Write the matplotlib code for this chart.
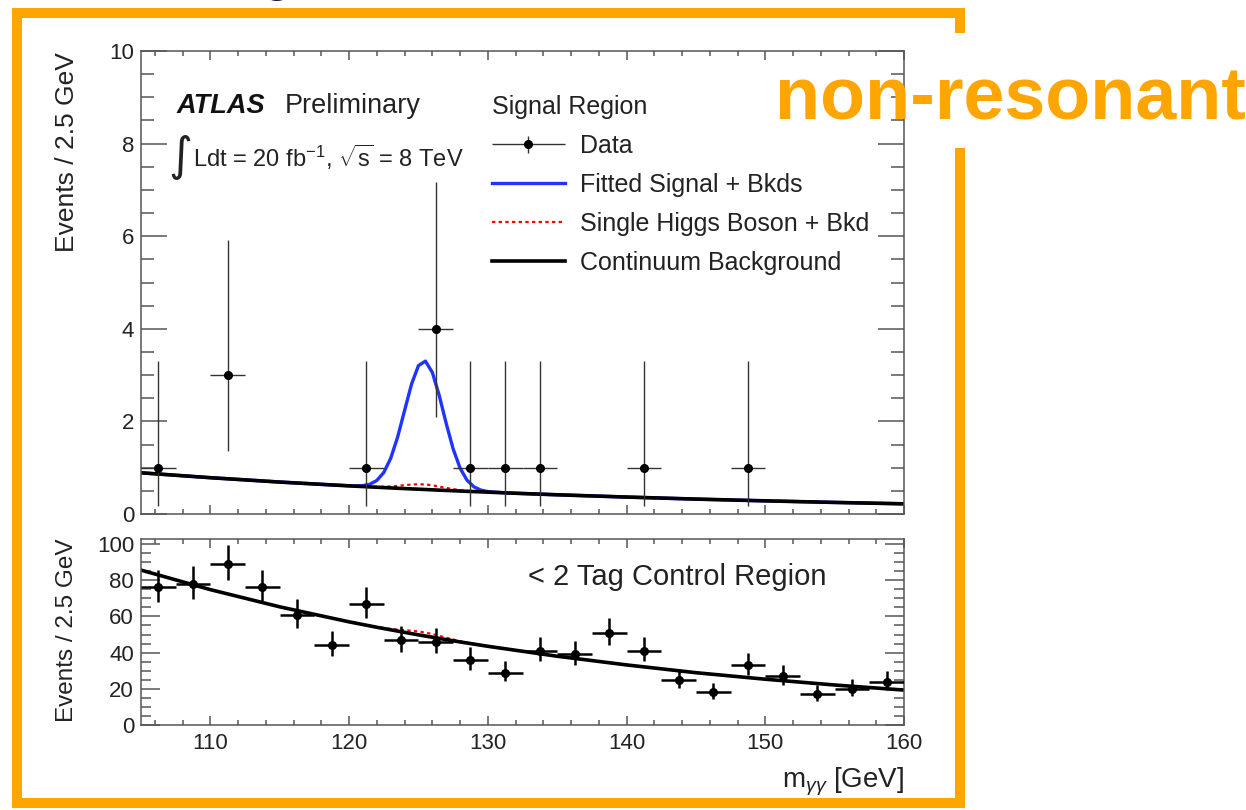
import matplotlib
matplotlib.use("Agg")
import matplotlib.pyplot as plt
from matplotlib.lines import Line2D
from matplotlib.ticker import MultipleLocator
from matplotlib.legend_handler import HandlerErrorbar
from matplotlib.container import ErrorbarContainer

plt.rcParams['font.family'] = ['Liberation Sans', 'DejaVu Sans']
plt.rcParams['mathtext.fontset'] = 'custom'
plt.rcParams['mathtext.rm'] = 'Liberation Sans'
plt.rcParams['mathtext.it'] = 'Liberation Sans:italic'
plt.rcParams['mathtext.bf'] = 'Liberation Sans:bold'

W, H = 1246, 810
ORANGE = '#ffa500'
AXIS_GREY = '#555555'

# signal region: 2.5 GeV bins that have events
sr_mass = [106.25, 111.25, 121.25, 126.25, 128.75, 131.25, 133.75, 141.25, 148.75]
sr_events = [1, 3, 1, 4, 1, 1, 1, 1, 1]
sr_err_lo = [0.83, 1.63, 0.83, 1.91, 0.83, 0.83, 0.83, 0.83, 0.83]
sr_err_hi = [2.30, 2.92, 2.30, 3.16, 2.30, 2.30, 2.30, 2.30, 2.30]

# < 2 tag control region
cr_mass = [106.25, 108.75, 111.25, 113.75, 116.25, 118.75, 121.25, 123.75,
           126.25, 128.75, 131.25, 133.75, 136.25, 138.75, 141.25, 143.75,
           146.25, 148.75, 151.25, 153.75, 156.25, 158.75]
cr_events = [76, 78, 89, 76, 61, 44, 67, 47, 46, 36, 29, 41, 39, 51, 41, 25,
             18, 33, 27, 17, 20, 24]
cr_err_lo = [8.2, 8.3, 8.9, 8.2, 7.3, 6.1, 7.7, 6.4, 6.3, 5.5, 4.9, 5.9, 5.7,
             6.6, 5.9, 4.5, 3.7, 5.2, 4.7, 3.6, 4.0, 4.4]
cr_err_hi = [9.7, 9.8, 10.4, 9.7, 8.8, 7.7, 9.2, 7.9, 7.8, 7.0, 6.4, 7.4, 7.2,
             8.2, 7.4, 6.0, 5.3, 6.8, 6.2, 5.2, 5.5, 5.9]
bin_half = 1.25

# fit curves in the signal region
sr_curve_mass = [105, 110, 115, 119, 120, 120.5, 121, 121.5, 122, 122.5, 123,
                 123.5, 124, 124.5, 125, 125.5, 126, 126.5, 127, 127.5, 128,
                 128.5, 129, 129.5, 130, 131, 132, 135, 140, 145, 150, 155, 160]
sr_continuum = [0.890, 0.784, 0.690, 0.624, 0.608, 0.600, 0.593, 0.585, 0.578,
                0.571, 0.563, 0.556, 0.549, 0.542, 0.536, 0.529, 0.522, 0.515,
                0.509, 0.503, 0.496, 0.490, 0.484, 0.478, 0.472, 0.460, 0.448,
                0.415, 0.366, 0.322, 0.284, 0.250, 0.220]
sr_fitted = [0.890, 0.784, 0.690, 0.624, 0.610, 0.606, 0.613, 0.643, 0.724,
             0.896, 1.203, 1.663, 2.235, 2.803, 3.205, 3.302, 3.058, 2.557,
             1.956, 1.406, 0.992, 0.730, 0.586, 0.516, 0.485, 0.461, 0.448,
             0.415, 0.366, 0.322, 0.284, 0.250, 0.220]
sr_single_higgs = [0.890, 0.784, 0.690, 0.624, 0.608, 0.600, 0.595, 0.589,
                   0.587, 0.588, 0.595, 0.607, 0.623, 0.636, 0.643, 0.638,
                   0.620, 0.592, 0.563, 0.537, 0.516, 0.500, 0.489, 0.480,
                   0.473, 0.460, 0.448, 0.415, 0.366, 0.322, 0.284, 0.250,
                   0.220]

# fit curves in the control region
cr_curve_mass = [105, 110, 115, 120, 122, 123, 124, 125, 126, 127, 128, 129,
                 130, 135, 140, 145, 150, 155, 160]
cr_continuum = [85.6, 74.8, 65.3, 57.0, 54.0, 52.6, 51.2, 49.8, 48.5, 47.2,
                45.9, 44.7, 43.5, 38.0, 33.2, 28.9, 25.3, 22.1, 19.3]
cr_single_higgs = [85.6, 74.8, 65.3, 57.0, 54.1, 53.1, 52.4, 51.7, 50.3, 48.2,
                   46.3, 44.8, 43.5, 38.0, 33.2, 28.9, 25.3, 22.1, 19.3]


def fx(px):
    return px / W


def fy(py):
    return 1 - py / H


def root_style(ax, ymajor, yminor, ymaj_len, ymin_len):
    ax.set_xlim(105, 160)
    ax.xaxis.set_major_locator(MultipleLocator(10))
    ax.xaxis.set_minor_locator(MultipleLocator(2))
    ax.yaxis.set_major_locator(MultipleLocator(ymajor))
    ax.yaxis.set_minor_locator(MultipleLocator(yminor))
    ax.tick_params(which='both', direction='in', top=True, right=True,
                   color=AXIS_GREY, width=1.1, labelsize=16,
                   labelcolor='#222222')
    ax.tick_params(axis='x', which='major', length=6.5, pad=6)
    ax.tick_params(axis='x', which='minor', length=3.6)
    ax.tick_params(axis='y', which='major', length=ymaj_len, pad=5)
    ax.tick_params(axis='y', which='minor', length=ymin_len)
    for s in ax.spines.values():
        s.set_color(AXIS_GREY)
        s.set_linewidth(1.1)


fig = plt.figure(figsize=(12.46, 8.10), dpi=100)

ax1 = fig.add_axes([fx(141), fy(514), fx(904) - fx(141), fy(51) - fy(514)])
ax2 = fig.add_axes([fx(141), fy(725), fx(904) - fx(141), fy(538.6) - fy(725)])

# --- signal region ---
blue, = ax1.plot(sr_curve_mass, sr_fitted, color='#1f35ff', lw=2.4)
red, = ax1.plot(sr_curve_mass, sr_single_higgs, color='#ff0000', lw=1.6,
                ls=(0, (1.5, 1.5)))
black, = ax1.plot(sr_curve_mass, sr_continuum, color='black', lw=2.6)
data = ax1.errorbar(sr_mass, sr_events, xerr=bin_half,
                    yerr=[sr_err_lo, sr_err_hi], fmt='o', color='black',
                    ecolor='#333333', elinewidth=1.0, markersize=5.5,
                    capsize=0, zorder=5)
ax1.set_ylim(0, 10)
root_style(ax1, 2, 0.5, 18.5, 9.4)
ax1.tick_params(axis='x', labelbottom=False)

leg = ax1.legend([data, blue, red, black],
                 ['Data', 'Fitted Signal + Bkds', 'Single Higgs Boson + Bkd',
                  'Continuum Background'],
                 title='Signal Region', loc='upper left',
                 bbox_to_anchor=(fx(492), fy(95)), bbox_transform=fig.transFigure,
                 frameon=False, fontsize=18, title_fontsize=18,
                 handlelength=2.9, handletextpad=0.6, labelspacing=0.6,
                 borderpad=0, borderaxespad=0, alignment='left',
                 handler_map={ErrorbarContainer:
                              HandlerErrorbar(xerr_size=1.45, yerr_size=0.35)})
for t in leg.get_texts():
    t.set_color('#222222')
leg.get_title().set_color('#222222')

fig.text(fx(177), fy(113), 'ATLAS', fontsize=19.5, fontweight='bold',
         fontstyle='italic', va='baseline', color='#111111')
fig.text(fx(285), fy(113), 'Preliminary', fontsize=19.5, va='baseline',
         color='#222222')
fig.text(fx(168), fy(170), '\u222b', family='DejaVu Sans', fontsize=33,
         va='baseline', color='#222222')
fig.text(fx(193), fy(167), r'Ldt = 20 fb$^{-1}$, $\sqrt{\mathrm{s}}$ = 8 TeV',
         fontsize=17, va='baseline', color='#222222')

# --- control region ---
ax2.plot(cr_curve_mass, cr_single_higgs, color='#ff0000', lw=1.6,
         ls=(0, (1.5, 1.5)))
ax2.plot(cr_curve_mass, cr_continuum, color='black', lw=2.6)
ax2.errorbar(cr_mass, cr_events, xerr=bin_half, yerr=[cr_err_lo, cr_err_hi],
             fmt='o', color='black', ecolor='black', elinewidth=1.8,
             markersize=5.5, capsize=0, zorder=5)
ax2.set_ylim(0, 103)
root_style(ax2, 20, 5, 13.7, 7.2)

fig.text(fx(528), fy(577), '< 2 Tag Control Region', fontsize=21,
         va='center', color='#222222')

fig.text(fx(67), fy(52), 'Events / 2.5 GeV', rotation=90, fontsize=19,
         ha='center', va='top', color='#222222')
fig.text(fx(67), fy(538), 'Events / 2.5 GeV', rotation=90, fontsize=17.5,
         ha='center', va='top', color='#222222')
fig.text(fx(904), fy(788), r'm$_{\gamma\gamma}$ [GeV]', fontsize=20,
         ha='right', va='baseline', color='#222222')

# orange slide frame, open on the right where the label sits
frame = Line2D([fx(960), fx(960), fx(17), fx(17), fx(960), fx(960)],
               [fy(33), fy(13), fy(13), fy(802.5), fy(802.5), fy(148)],
               transform=fig.transFigure, color=ORANGE, lw=7.2,
               solid_joinstyle='miter', solid_capstyle='butt')
fig.add_artist(frame)
fig.text(fx(775), fy(120), 'non-resonant', fontsize=53, fontweight='bold',
         color=ORANGE, va='baseline')

# tail of the slide title peeking over the frame
fig.text(fx(262), fy(-11), 'g', fontsize=40, color='#1a1a3a', va='baseline')

fig.savefig('out.png', dpi=100)
